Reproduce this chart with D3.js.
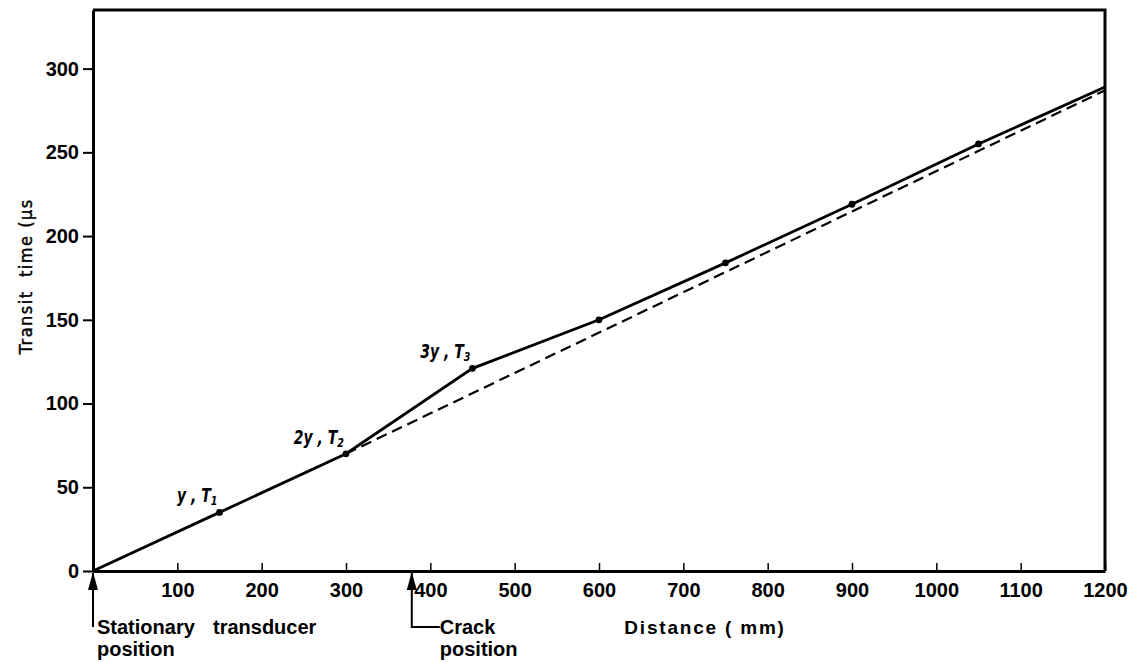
<!DOCTYPE html>
<html>
<head>
<meta charset="utf-8">
<script src="https://cdn.jsdelivr.net/npm/d3@7"></script>
<style>
  body { margin: 0; background: #fff; }
  svg { display: block; }
</style>
</head>
<body>
<div class="chart"></div>
<script>
// Transducer distance (mm) and measured transit time (µs)
const distance = [0, 150, 300, 450, 600, 750, 900, 1050, 1200];
const transit = [0, 35, 70, 121, 150, 184, 219, 255, 289];

// Dashed extrapolation (no crack) from the 2y point
const dashDistance = [300, 1200];
const dashTransit = [70, 287];

const xTicks = [100, 200, 300, 400, 500, 600, 700, 800, 900, 1000, 1100, 1200];
const yTicks = [0, 50, 100, 150, 200, 250, 300];

// Point labels: [distance, transit, prefix, subscript]
const pointLabels = [
  [150, 35, "y , T", "1"],
  [300, 70, "2y , T", "2"],
  [450, 121, "3y , T", "3"]
];

const crackAt = 378;

const width = 1134, height = 662;
const plot = { left: 93, right: 1105, top: 10, bottom: 571 };
const narrow = "Liberation Sans Narrow, Arial Narrow, Liberation Sans, sans-serif";
const sans = "Liberation Sans, Arial, sans-serif";

const svg = d3.select(".chart").append("svg")
  .attr("width", width)
  .attr("height", height);

const x = d3.scaleLinear().domain([0, 1200]).range([plot.left, plot.right]);
const y = d3.scaleLinear().domain([0, 335]).range([plot.bottom, plot.top]);

// Frame
svg.append("path")
  .attr("d", `M${plot.left},${plot.top}H${plot.right}V${plot.bottom}`)
  .attr("fill", "none")
  .attr("stroke", "#000")
  .attr("stroke-width", 3);

// Y axis
const yAxis = svg.append("g")
  .attr("transform", `translate(${plot.left},0)`)
  .call(d3.axisLeft(y).tickValues(yTicks).tickFormat(d3.format("d"))
    .tickSize(10).tickPadding(4).tickSizeOuter(0));
yAxis.select(".domain").attr("stroke-width", 3);
yAxis.selectAll(".tick line").attr("stroke-width", 2);
yAxis.selectAll(".tick text")
  .attr("font-family", narrow)
  .attr("font-weight", "bold")
  .attr("font-size", 20)
  .attr("fill", "#000");

// X axis, ticks pointing into the plot
const xAxis = svg.append("g")
  .attr("transform", `translate(0,${plot.bottom})`)
  .call(d3.axisBottom(x).tickValues(xTicks).tickFormat(d3.format("d"))
    .tickSize(-8).tickPadding(12).tickSizeOuter(0));
xAxis.select(".domain").attr("stroke-width", 3);
xAxis.selectAll(".tick line").attr("stroke-width", 1.5);
xAxis.selectAll(".tick text")
  .attr("font-family", narrow)
  .attr("font-weight", "bold")
  .attr("font-size", 20)
  .attr("fill", "#000");

// Y axis title
svg.append("text")
  .attr("transform", `translate(32,${y(176)}) rotate(-90)`)
  .attr("text-anchor", "middle")
  .attr("font-family", "DejaVu Sans Condensed, DejaVu Sans, sans-serif")
  .attr("font-size", 18)
  .attr("letter-spacing", 1.5)
  .attr("fill", "#000")
  .attr("stroke", "#000")
  .attr("stroke-width", 0.4)
  .style("white-space", "pre")
  .text("Transit  time (µs");

// X axis title
svg.append("text")
  .attr("x", 705)
  .attr("y", 634)
  .attr("text-anchor", "middle")
  .attr("font-family", sans)
  .attr("font-weight", "bold")
  .attr("font-size", 19)
  .attr("letter-spacing", 1.8)
  .text("Distance ( mm)");

// Dashed line
const line = d3.line().x(d => x(d[0])).y(d => y(d[1]));
svg.append("path")
  .datum(d3.zip(dashDistance, dashTransit))
  .attr("fill", "none")
  .attr("stroke", "#000")
  .attr("stroke-width", 2.2)
  .attr("stroke-dasharray", "11,6")
  .attr("d", line);

// Measured line
svg.append("path")
  .datum(d3.zip(distance, transit))
  .attr("fill", "none")
  .attr("stroke", "#000")
  .attr("stroke-width", 2.8)
  .attr("d", line);

// Points
svg.selectAll(".pt")
  .data(d3.zip(distance, transit).slice(1, -1))
  .join("circle")
  .attr("class", "pt")
  .attr("cx", d => x(d[0]))
  .attr("cy", d => y(d[1]))
  .attr("r", 3.4)
  .attr("fill", "#000");

// Point labels, sitting up and to the left of their dots
const lbl = svg.selectAll(".plbl")
  .data(pointLabels)
  .join("text")
  .attr("class", "plbl")
  .attr("transform", d => `translate(${x(d[0]) - 2},${y(d[1]) - 10}) scale(0.82,1)`)
  .attr("text-anchor", "end")
  .attr("font-family", "DejaVu Sans Condensed, DejaVu Sans, sans-serif")
  .attr("font-style", "italic")
  .attr("font-weight", "bold")
  .attr("font-size", 19)
  .style("white-space", "pre");
lbl.append("tspan").text(d => d[2]);
lbl.append("tspan").attr("dy", 3).attr("font-size", 13).text(d => d[3]);

// Arrows below the axis
const arrow = (xv, path) => {
  const px = x(xv);
  svg.append("path")
    .attr("d", path(px))
    .attr("fill", "none")
    .attr("stroke", "#000")
    .attr("stroke-width", 2);
  svg.append("path")
    .attr("d", `M${px},${plot.bottom + 1}L${px - 5},${plot.bottom + 19}L${px + 5},${plot.bottom + 19}Z`)
    .attr("fill", "#000");
};
arrow(0, px => `M${px},${plot.bottom + 2}V${plot.bottom + 56}`);
arrow(crackAt, px => `M${px},${plot.bottom + 2}V${plot.bottom + 56}H${px + 28}`);

const noteText = (xp, yp, t) => svg.append("text")
  .attr("x", xp)
  .attr("y", yp)
  .attr("font-family", sans)
  .attr("font-weight", "bold")
  .attr("font-size", 20)
  .text(t);
noteText(97, 634, "Stationary");
noteText(213, 634, "transducer");
noteText(97, 656, "position");
noteText(x(crackAt) + 28, 634, "Crack");
noteText(x(crackAt) + 28, 656, "position");
</script>
</body>
</html>
